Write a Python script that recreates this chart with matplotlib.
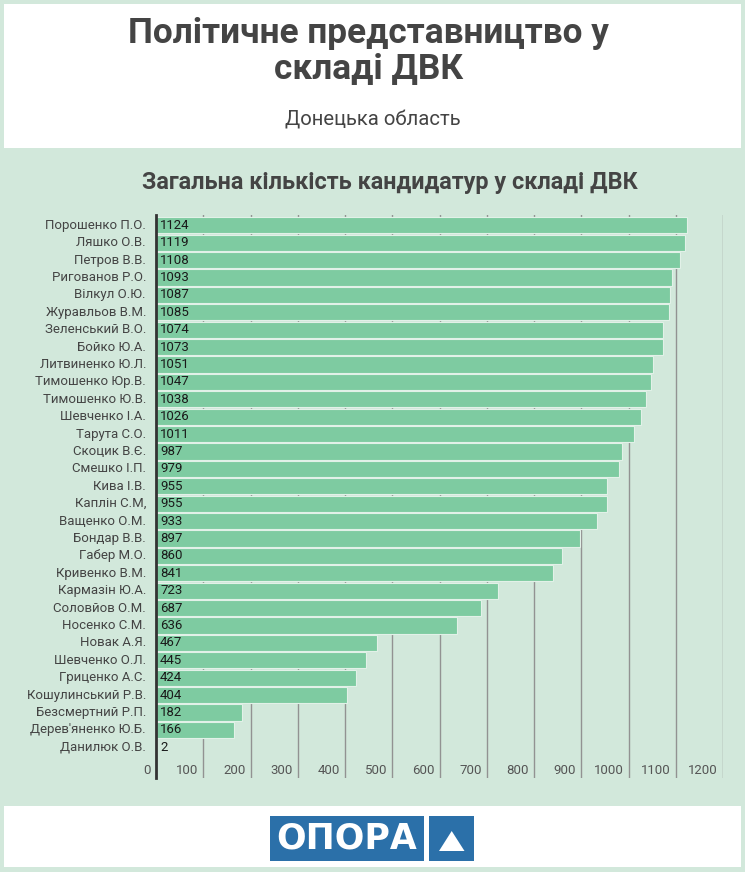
import matplotlib
matplotlib.use("Agg")
import matplotlib.pyplot as plt
from matplotlib.patches import Rectangle, Polygon
from matplotlib.transforms import offset_copy

names = [
    "Порошенко П.О.", "Ляшко О.В.", "Петров В.В.", "Ригованов Р.О.", "Вілкул О.Ю.",
    "Журавльов В.М.", "Зеленський В.О.", "Бойко Ю.А.", "Литвиненко Ю.Л.", "Тимошенко Юр.В.",
    "Тимошенко Ю.В.", "Шевченко І.А.", "Тарута С.О.", "Скоцик В.Є.", "Смешко І.П.",
    "Кива І.В.", "Каплін С.М,", "Ващенко О.М.", "Бондар В.В.", "Габер М.О.",
    "Кривенко В.М.", "Кармазін Ю.А.", "Соловйов О.М.", "Носенко С.М.", "Новак А.Я.",
    "Шевченко О.Л.", "Гриценко А.С.", "Кошулинський Р.В.", "Безсмертний Р.П.", "Дерев'яненко Ю.Б.",
    "Данилюк О.В.",
]
counts = [
    1124, 1119, 1108, 1093, 1087, 1085, 1074, 1073, 1051, 1047,
    1038, 1026, 1011, 987, 979, 955, 955, 933, 897, 860,
    841, 723, 687, 636, 467, 445, 424, 404, 182, 166,
    2,
]
x_ticks = [0, 100, 200, 300, 400, 500, 600, 700, 800, 900, 1000, 1100, 1200]

W, H = 745, 872
BG = "#d2e8db"
BAR = "#7ecba1"
TXT = "#444444"
BLUE = "#2b70a9"

plt.rcParams["font.family"] = ["Roboto", "DejaVu Sans"]

fig = plt.figure(figsize=(W / 100, H / 100), dpi=100)
fig.patch.set_facecolor(BG)


def px(x, y):
    # pixel coords (top-left origin) -> figure fraction
    return x / W, 1 - y / H


# white header and footer boxes
fig.patches.append(Rectangle((4 / W, 1 - 148 / H), 737 / W, 144 / H,
                             transform=fig.transFigure, facecolor="white", edgecolor="none"))
fig.patches.append(Rectangle((4 / W, 1 - 867 / H), 737 / W, 61 / H,
                             transform=fig.transFigure, facecolor="white", edgecolor="none"))

fig.text(*px(369, 33), "Політичне представництво у", ha="center", va="center",
         fontsize=25.4, fontweight="bold", color=TXT)
fig.text(*px(369, 69), "складі ДВК", ha="center", va="center",
         fontsize=25.4, fontweight="bold", color=TXT)
fig.text(*px(373, 120), "Донецька область", ha="center", va="center",
         fontsize=14.6, color=TXT)
fig.text(*px(390, 183), "Загальна кількість кандидатур у складі ДВК", ha="center", va="center",
         fontsize=16.8, fontweight="bold", color=TXT)

# chart axes
ax_l, ax_r, ax_t, ax_b = 156, 723, 215, 778
ax = fig.add_axes([ax_l / W, 1 - ax_b / H, (ax_r - ax_l) / W, (ax_b - ax_t) / H])
ax.set_facecolor("none")

n = len(names)
pitch = 17.4
top_c = 225.3
y_top = (ax_t - top_c) / pitch
y_bot = (ax_b - top_c) / pitch
pos = list(range(n))

for t in x_ticks[1:]:
    ax.axvline(t, color="#929292", lw=1, zorder=1)

ax.barh(pos, counts, height=0.93, color=BAR, edgecolor="#e2f1e8", linewidth=0.8, zorder=2)

ax.set_xlim(0, 1200)
ax.set_ylim(y_bot, y_top)
ax.set_xticks([])
ax.set_yticks([])
for s in ["top", "right", "bottom"]:
    ax.spines[s].set_visible(False)
ax.spines["left"].set_color("#333333")
ax.spines["left"].set_linewidth(2)
ax.spines["left"].set_zorder(3)

lab_tr = offset_copy(ax.transData, fig=fig, x=-10, y=0, units="dots")
val_tr = offset_copy(ax.transData, fig=fig, x=4, y=0, units="dots")
tick_tr = offset_copy(ax.transData, fig=fig, x=-5, y=0, units="dots")

for i, (nm, c) in enumerate(zip(names, counts)):
    ax.text(0, i, nm, transform=lab_tr, ha="right", va="center",
            fontsize=9.5, color=TXT, clip_on=False)
    ax.text(0, i, str(c), transform=val_tr, ha="left", va="center",
            fontsize=9.5, color="#1a1a1a", zorder=4)

tick_y = (770 - top_c) / pitch
for t in x_ticks:
    ax.text(t, tick_y, str(t), transform=tick_tr, ha="right", va="center",
            fontsize=9.5, color="#555555", clip_on=False)

# OPORA logo
fig.patches.append(Rectangle((270 / W, 1 - 861 / H), 154 / W, 45 / H,
                             transform=fig.transFigure, facecolor=BLUE, edgecolor="none"))
fig.patches.append(Rectangle((429 / W, 1 - 861 / H), 45 / W, 45 / H,
                             transform=fig.transFigure, facecolor=BLUE, edgecolor="none"))
fig.text(*px(347, 838), "ОПОРА", ha="center", va="center", fontsize=25,
         fontweight="heavy", color="white", family=["DejaVu Sans"])
fig.patches.append(Polygon([px(451.7, 831), px(439, 851), px(464.5, 851)], closed=True,
                           transform=fig.transFigure, facecolor="white", edgecolor="none"))

fig.savefig("out.png", dpi=100, facecolor=BG)
